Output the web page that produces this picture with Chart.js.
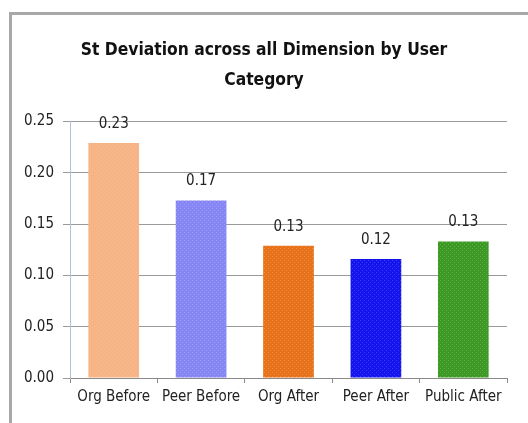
<!DOCTYPE html>
<html>
<head>
<meta charset="utf-8">
<script src="https://cdn.jsdelivr.net/npm/chart.js@4.4.1/dist/chart.umd.min.js"></script>
<style>
  body { margin: 0; background: #fff; }
  .wrap { position: relative; width: 528px; height: 423px; overflow: hidden; }
  .frame {
    position: absolute; left: 9px; top: 12px; width: 540px; height: 440px;
    border-top: 3px solid #a8a8a8; border-left: 3px solid #a8a8a8;
  }
  canvas { position: absolute; left: 0; top: 0; }
</style>
</head>
<body>
<div class="wrap">
  <div class="frame"></div>
  <canvas id="chart" width="528" height="423"></canvas>
</div>
<script>
// ---- data ----
const categories = ['Org Before', 'Peer Before', 'Org After', 'Peer After', 'Public After'];
const stdDev = [0.229, 0.173, 0.129, 0.116, 0.133];
const barColors = ['#f6b383', '#8686f4', '#e8721a', '#1414ee', '#3c9a24'];
const yTicks = [0, 0.05, 0.10, 0.15, 0.20, 0.25];

const FONT = '"DejaVu Sans Condensed", "Liberation Sans", sans-serif';

// faint dotted texture like the original fills
function dotted(color) {
  const c = document.createElement('canvas');
  c.width = 4; c.height = 4;
  const g = c.getContext('2d');
  g.fillStyle = color;
  g.fillRect(0, 0, 4, 4);
  g.fillStyle = 'rgba(255,255,255,0.18)';
  g.fillRect(0, 0, 1, 1);
  g.fillRect(2, 2, 1, 1);
  return g.createPattern(c, 'repeat');
}

// value labels above each bar
const valueLabels = {
  id: 'valueLabels',
  afterDatasetsDraw(chart) {
    const ctx = chart.ctx;
    const meta = chart.getDatasetMeta(0);
    ctx.save();
    ctx.font = '15px ' + FONT;
    ctx.fillStyle = '#222';
    ctx.textAlign = 'center';
    ctx.textBaseline = 'middle';
    meta.data.forEach((bar, i) => {
      ctx.fillText(stdDev[i].toFixed(2), bar.x, bar.y - 19);
    });
    ctx.restore();
  }
};

new Chart(document.getElementById('chart'), {
  type: 'bar',
  data: {
    labels: categories,
    datasets: [{
      data: stdDev,
      backgroundColor: barColors.map(dotted),
      borderWidth: 0,
      barPercentage: 0.58,
      categoryPercentage: 1
    }]
  },
  options: {
    responsive: false,
    animation: false,
    layout: { padding: { left: 21, right: 21, top: 0, bottom: 0 } },
    plugins: {
      legend: { display: false },
      tooltip: { enabled: false },
      title: {
        display: true,
        text: ['St Deviation across all Dimension by User', 'Category'],
        color: '#111',
        font: { family: FONT, size: 17.3, weight: 'bold', lineHeight: 1.72 },
        padding: { top: 36, bottom: 26 }
      }
    },
    scales: {
      x: {
        afterFit(scale) { scale.height = 45; },
        grid: {
          offset: true,
          drawOnChartArea: false,
          tickLength: 5,
          color: '#8a8a8a'
        },
        border: { color: '#8a8a8a', width: 1 },
        ticks: {
          color: '#222',
          padding: 5,
          maxRotation: 0,
          autoSkip: false,
          font: { family: FONT, size: 15 }
        }
      },
      y: {
        min: 0,
        max: 0.25,
        afterFit(scale) { scale.width = 49; },
        afterBuildTicks(scale) { scale.ticks = yTicks.map(v => ({ value: v })); },
        grid: { color: '#9a9a9a', tickLength: 7 },
        border: { color: '#b3c1d6', width: 1 },
        ticks: {
          color: '#222',
          padding: 9,
          font: { family: FONT, size: 15 },
          callback: v => v.toFixed(2)
        }
      }
    }
  },
  plugins: [valueLabels]
});
</script>
</body>
</html>
